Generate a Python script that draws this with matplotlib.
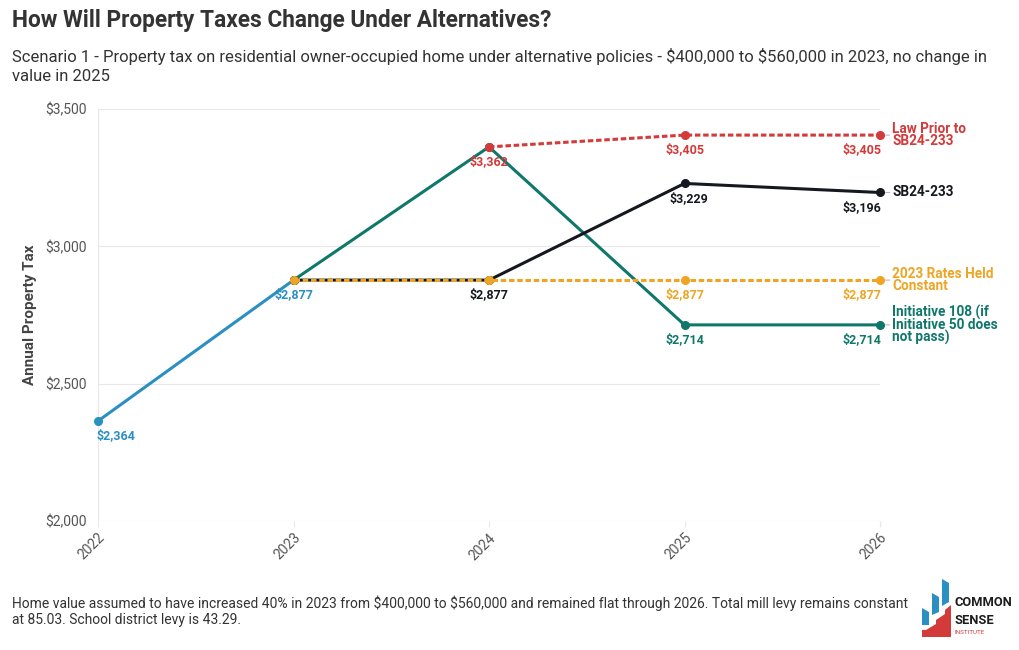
import matplotlib

matplotlib.use("Agg")
import matplotlib.pyplot as plt
from matplotlib.patches import Polygon

plt.rcParams["font.family"] = ["Roboto", "DejaVu Sans"]
plt.rcParams["text.parse_math"] = False

BLUE = "#2A8FC1"
TEAL = "#10776B"
RED = "#D33A3A"
ORANGE = "#EDA523"
BLACK = "#15191F"
GRID = "#E8E8E8"

years = [2022, 2023, 2024, 2025, 2026]

hist_years = [2022, 2023]
hist_vals = [2364, 2877]

sb_years = [2023, 2024, 2025, 2026]
sb_vals = [2877, 2877, 3229, 3196]

prior_years = [2024, 2025, 2026]
prior_vals = [3362, 3405, 3405]

held_years = [2023, 2024, 2025, 2026]
held_vals = [2877, 2877, 2877, 2877]

init_years = [2023, 2024, 2025, 2026]
init_vals = [2877, 3362, 2714, 2714]

yticks = [2000, 2500, 3000, 3500]

W, H = 1020, 650
fig = plt.figure(figsize=(W / 100, H / 100), dpi=100)
ax = fig.add_axes([98 / W, 1 - 521 / H, (880 - 98) / W, (521 - 109) / H])


def money(v):
    return f"${v:,.0f}"


lw = 2.2
ms = 5.5
dash = (0, (1.8, 0.9))
ax.plot(hist_years, hist_vals, color=BLUE, lw=lw, marker="o", ms=ms, clip_on=False, zorder=3)
ax.plot(init_years, init_vals, color=TEAL, lw=lw, marker="o", ms=ms, clip_on=False, zorder=3)
ax.plot(sb_years, sb_vals, color=BLACK, lw=lw, marker="o", ms=ms, clip_on=False, zorder=4)
ax.plot(prior_years, prior_vals, color=RED, lw=lw, ls=dash, marker="o", ms=ms,
        clip_on=False, zorder=5)
ax.plot(held_years, held_vals, color=ORANGE, lw=lw, ls=dash, marker="o", ms=ms,
        clip_on=False, zorder=5)

ax.set_xlim(2022, 2026)
ax.set_ylim(2000, 3500)
ax.set_yticks(yticks)
ax.set_yticklabels([money(v) for v in yticks], fontsize=10, color="#555555")
ax.set_xticks(years)
ax.set_xticklabels([str(y) for y in years], rotation=45, ha="right", rotation_mode="anchor",
                   fontsize=10, color="#555555")
ax.tick_params(axis="y", length=0, pad=8)
ax.tick_params(axis="x", length=4, color=GRID, pad=3)
ax.grid(axis="y", color=GRID, lw=0.8)
for s in ["top", "right", "bottom"]:
    ax.spines[s].set_visible(False)
ax.spines["left"].set_color(GRID)
ax.set_ylabel("Annual Property Tax", fontsize=11, fontweight="bold", color="#444444", labelpad=6)


def lab(x, y, v, color, ha="center", dx=0):
    ax.annotate(money(v), (x, y), xytext=(dx, -6), textcoords="offset points", ha=ha, va="top",
                fontsize=9, fontweight="bold", color=color, zorder=6)


lab(hist_years[0], hist_vals[0], hist_vals[0], BLUE, ha="left", dx=-1)
lab(hist_years[1], hist_vals[1], hist_vals[1], BLUE)
lab(prior_years[0], prior_vals[0], prior_vals[0], RED)
lab(sb_years[1], sb_vals[1], sb_vals[1], BLACK)
for series, ys, color in [(prior_vals, prior_years, RED), (sb_vals, sb_years, BLACK),
                          (held_vals, held_years, ORANGE), (init_vals, init_years, TEAL)]:
    i25 = ys.index(2025)
    lab(2025, series[i25], series[i25], color, dx=3 if color == BLACK else 0)
    lab(2026, series[-1], series[-1], color, ha="right", dx=1)

# end labels
ends = [
    (prior_vals[-1], "Law Prior to\nSB24-233", RED),
    (sb_vals[-1], "SB24-233", BLACK),
    (held_vals[-1], "2023 Rates Held\nConstant", ORANGE),
    (init_vals[-1], "Initiative 108 (if\nInitiative 50 does\nnot pass)", TEAL),
]
for v, text, color in ends:
    ax.annotate("", (2026, v), xytext=(7, 0), textcoords="offset points",
                arrowprops=dict(arrowstyle="-", color="#BBBBBB", lw=0.8, shrinkA=0, shrinkB=4))
    ax.annotate(text, (2026, v), xytext=(9, 0), textcoords="offset points", ha="left",
                va="center", fontsize=9.8, fontweight="bold", color=color, linespacing=0.85,
                annotation_clip=False)

fig.text(12 / W, 1 - 21 / H, "How Will Property Taxes Change Under Alternatives?",
         fontsize=16.3, fontweight="bold", color="#333333", va="center")
fig.text(12 / W, 1 - 66 / H,
         "Scenario 1 - Property tax on residential owner-occupied home under alternative policies "
         "- $400,000 to $560,000 in 2023, no change in\nvalue in 2025",
         fontsize=12, color="#333333", va="center", linespacing=1.3)
fig.text(12 / W, 1 - 611 / H,
         "Home value assumed to have increased 40% in 2023 from $400,000 to $560,000 and remained "
         "flat through 2026. Total mill levy remains constant\nat 85.03. School district levy is 43.29.",
         fontsize=10, color="#333333", va="center", linespacing=1.15)

# logo
blue_bars = [
    [(922, 625), (929, 625), (929, 612), (922, 608)],
    [(932, 615), (939, 612), (939, 597), (932, 593)],
    [(942, 606), (949, 602), (949, 583), (942, 579)],
]
red_shape = [(922, 637), (951, 637), (951, 605), (945, 610), (945, 614), (936, 620),
             (936, 624), (926, 630), (922, 630)]
for pts in blue_bars:
    fig.patches.append(Polygon([(x / W, 1 - y / H) for x, y in pts], closed=True,
                               transform=fig.transFigure, color=BLUE, lw=0))
fig.patches.append(Polygon([(x / W, 1 - y / H) for x, y in red_shape], closed=True,
                           transform=fig.transFigure, color=RED, lw=0))
fig.text(955 / W, 1 - 603 / H, "COMMON", fontsize=9.3, fontweight="bold", color="#1C1C1C",
         va="center")
fig.text(955 / W, 1 - 620 / H, "SENSE", fontsize=9.3, fontweight="bold", color="#1C1C1C",
         va="center")
fig.text(955 / W, 1 - 633 / H, "INSTITUTE", fontsize=4.5, color=RED, va="center")

fig.savefig("out.png", dpi=100)
